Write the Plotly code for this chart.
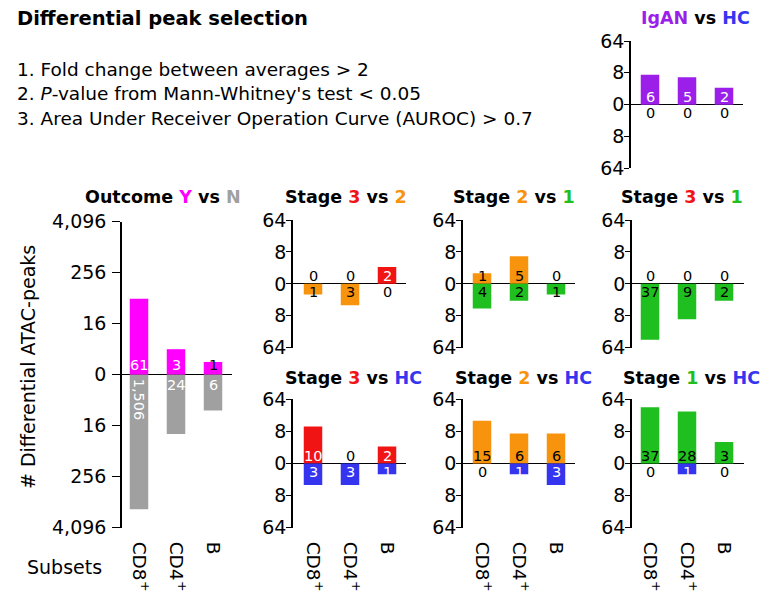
import numpy as np
import plotly.graph_objects as go

W, H = 777, 599
OFF = 8  # page body margin in the browser

# ---------------- data ----------------
subsets = ["CD8+", "CD4+", "B"]
subset_ticktext = ["CD8<sup>+</sup>", "CD4<sup>+</sup>", "B"]

outcome_Y = [61, 3, 1]
outcome_N = [1506, 24, 6]
igan_IgAN = [6, 5, 2]
igan_HC = [0, 0, 0]
s3v2_3 = [0, 0, 2]
s3v2_2 = [1, 3, 0]
s2v1_2 = [1, 5, 0]
s2v1_1 = [4, 2, 1]
s3v1_3 = [0, 0, 0]
s3v1_1 = [37, 9, 2]
s3hc_3 = [10, 0, 2]
s3hc_HC = [3, 3, 1]
s2hc_2 = [15, 6, 6]
s2hc_HC = [0, 1, 3]
s1hc_1 = [37, 28, 3]
s1hc_HC = [0, 1, 0]

outer_ticks_vals = [-12, -8, -4, 0, 4, 8, 12]
outer_ticks_text = ["4,096", "256", "16", "0", "16", "256", "4,096"]
small_ticks_vals = [-6, -3, 0, 3, 6]
small_ticks_text = ["64", "8", "0", "8", "64"]

# ---------------- style ----------------
MAG = "#FF00FF"
GRAY = "#A0A0A0"
PURPLE = "#9B1FE9"
RED = "#F01414"
ORANGE = "#F7930C"
GREEN = "#1FBF1F"
BLUE = "#3535F0"
FONT = "DejaVu Sans, Arial, sans-serif"
DARK_TEXT = {ORANGE, GREEN}


def px(x):
    return (x - OFF) / W


def py(y):
    return 1 - (y - OFF) / H


def lab_color(v, c):
    if v == 0 or c in DARK_TEXT:
        return "black"
    return "white"


def span(text, c):
    return f"<span style='color:{c}'>{text}</span>"


panels = [
    dict(up=outcome_Y, down=outcome_N, cu=MAG, cd=GRAY,
         title=f"<b>Outcome {span('Y', MAG)} vs {span('N', GRAY)}</b>",
         tx=163, ty=197, ax=(122, 232), pad=17, ay=(221.7, 527.7), yr=12,
         outer=True, xlabels=True, upcol=["white", "white", "black"]),
    dict(up=igan_IgAN, down=igan_HC, cu=PURPLE, cd=BLUE,
         title=f"<b>{span('IgAN', PURPLE)} vs {span('HC', BLUE)}</b>",
         tx=695, ty=18, ax=(631, 743), pad=19, ay=(41, 168.3), yr=6,
         outer=False, xlabels=False),
    dict(up=s3v2_3, down=s3v2_2, cu=RED, cd=ORANGE,
         title=f"<b>Stage {span('3', RED)} vs {span('2', ORANGE)}</b>",
         tx=346, ty=197, ax=(293, 406), pad=20, ay=(220, 347.7), yr=6,
         outer=False, xlabels=False),
    dict(up=s2v1_2, down=s2v1_1, cu=ORANGE, cd=GREEN,
         title=f"<b>Stage {span('2', ORANGE)} vs {span('1', GREEN)}</b>",
         tx=514, ty=197, ax=(463, 575), pad=19, ay=(220, 347.7), yr=6,
         outer=False, xlabels=False),
    dict(up=s3v1_3, down=s3v1_1, cu=RED, cd=GREEN,
         title=f"<b>Stage {span('3', RED)} vs {span('1', GREEN)}</b>",
         tx=682, ty=197, ax=(632, 744), pad=18, ay=(220, 347.7), yr=6,
         outer=False, xlabels=False),
    dict(up=s3hc_3, down=s3hc_HC, cu=RED, cd=BLUE,
         title=f"<b>Stage {span('3', RED)} vs {span('HC', BLUE)}</b>",
         tx=353, ty=378, ax=(293, 406), pad=20, ay=(399.3, 527.7), yr=6,
         outer=False, xlabels=True),
    dict(up=s2hc_2, down=s2hc_HC, cu=ORANGE, cd=BLUE,
         title=f"<b>Stage {span('2', ORANGE)} vs {span('HC', BLUE)}</b>",
         tx=523, ty=378, ax=(463, 575), pad=19, ay=(399.3, 527.7), yr=6,
         outer=False, xlabels=True),
    dict(up=s1hc_1, down=s1hc_HC, cu=GREEN, cd=BLUE,
         title=f"<b>Stage {span('1', GREEN)} vs {span('HC', BLUE)}</b>",
         tx=691, ty=378, ax=(632, 744), pad=18, ay=(399.3, 527.7), yr=6,
         outer=False, xlabels=True),
]

STEP = 37.0  # px between categories

fig = go.Figure()
annotations = []
layout = {}
xs = list(range(len(subsets)))

for i, p in enumerate(panels):
    n = i + 1
    xa = "x" if n == 1 else f"x{n}"
    ya = "y" if n == 1 else f"y{n}"
    up_h = np.log2(np.array(p["up"]) + 1)
    dn_h = -np.log2(np.array(p["down"]) + 1)
    fig.add_trace(go.Bar(x=xs, y=up_h, width=0.5, marker=dict(color=p["cu"], line_width=0),
                         xaxis=xa, yaxis=ya, showlegend=False,
                         customdata=p["up"], hovertemplate="%{customdata}<extra></extra>"))
    fig.add_trace(go.Bar(x=xs, y=dn_h, width=0.5, marker=dict(color=p["cd"], line_width=0),
                         xaxis=xa, yaxis=ya, showlegend=False,
                         customdata=p["down"], hovertemplate="%{customdata}<extra></extra>"))
    l, r = p["ax"]
    lo = -p["pad"] / STEP
    hi = lo + (r - l) / STEP
    t, b = p["ay"]
    layout["xaxis" if n == 1 else f"xaxis{n}"] = dict(
        domain=[px(l), px(r)], range=[lo, hi], anchor=ya, automargin=False,
        showline=False, showgrid=False, zeroline=False, ticks="",
        tickmode="array", tickvals=xs, ticktext=subset_ticktext,
        showticklabels=p["xlabels"], tickangle=90,
        tickfont=dict(family=FONT, size=18.5, color="black"),
        ticklabelstandoff=13, fixedrange=True)
    if p["outer"]:
        tv, tt = outer_ticks_vals, outer_ticks_text
    else:
        tv, tt = small_ticks_vals, small_ticks_text
    layout["yaxis" if n == 1 else f"yaxis{n}"] = dict(
        domain=[py(b), py(t)], range=[-p["yr"], p["yr"]], anchor=xa, automargin=False,
        showline=True, linecolor="black", linewidth=1.5,
        ticks="outside", ticklen=8 if p["outer"] else 5, tickwidth=1.2, tickcolor="black",
        tickmode="array", tickvals=tv, ticktext=tt,
        tickfont=dict(family=FONT, size=19, color="black"),
        ticklabelstandoff=2 if p["outer"] else -4,
        showgrid=False, zeroline=True, zerolinecolor="black", zerolinewidth=1.3,
        fixedrange=True)
    # value labels
    upcols = p.get("upcol")
    for j in xs:
        vu = p["up"][j]
        cu = upcols[j] if upcols else lab_color(vu, p["cu"])
        annotations.append(dict(x=j, y=0, xref=xa, yref=ya, text=str(vu), showarrow=False,
                                xanchor="center", yanchor="bottom",
                                yshift=-2 if not p["outer"] else 0,
                                font=dict(family=FONT, size=14.5, color=cu)))
        vd = p["down"][j]
        cd = lab_color(vd, p["cd"])
        if vd >= 1000:
            annotations.append(dict(x=j, y=0, xref=xa, yref=ya, text=f"{vd:,}", showarrow=False,
                                    textangle=90, xanchor="center", yanchor="top", yshift=-2,
                                    font=dict(family=FONT, size=14.5, color=cd)))
        else:
            annotations.append(dict(x=j, y=0, xref=xa, yref=ya, text=str(vd), showarrow=False,
                                    xanchor="center", yanchor="top",
                                    yshift=2 if not p["outer"] else 0,
                                    font=dict(family=FONT, size=14.5, color=cd)))
    annotations.append(dict(x=px(p["tx"]), y=py(p["ty"]), xref="paper", yref="paper",
                            text=p["title"], showarrow=False, xanchor="center", yanchor="middle",
                            font=dict(family=FONT, size=17.5, color="black")))

# header texts
annotations.append(dict(x=px(15), y=py(18), xref="paper", yref="paper", xanchor="left",
                        yanchor="middle", showarrow=False, text="<b>Differential peak selection</b>",
                        font=dict(family=FONT, size=19.5, color="black")))
criteria = ["1. Fold change between averages > 2",
            "2. <i>P</i>-value from Mann-Whitney's test < 0.05",
            "3. Area Under Receiver Operation Curve (AUROC) > 0.7"]
for k, (txt, yy) in enumerate(zip(criteria, [69, 94, 118.5])):
    annotations.append(dict(x=px(15), y=py(yy), xref="paper", yref="paper", xanchor="left",
                            yanchor="middle", showarrow=False, text=txt,
                            font=dict(family=FONT, size=18.5, color="black")))

annotations.append(dict(x=px(28), y=py(367), xref="paper", yref="paper", textangle=-90,
                        xanchor="center", yanchor="middle",
                        showarrow=False, text="# Differential ATAC-peaks",
                        font=dict(family=FONT, size=19, color="black")))
annotations.append(dict(x=px(64), y=py(567), xref="paper", yref="paper",
                        xanchor="center", yanchor="middle",
                        showarrow=False, text="Subsets",
                        font=dict(family=FONT, size=19, color="black")))

fig.update_layout(width=W, height=H, margin=dict(l=0, r=0, t=0, b=0, autoexpand=False),
                  paper_bgcolor="white", plot_bgcolor="white",
                  barmode="overlay", annotations=annotations, **layout)

fig.write_html("out.html")
